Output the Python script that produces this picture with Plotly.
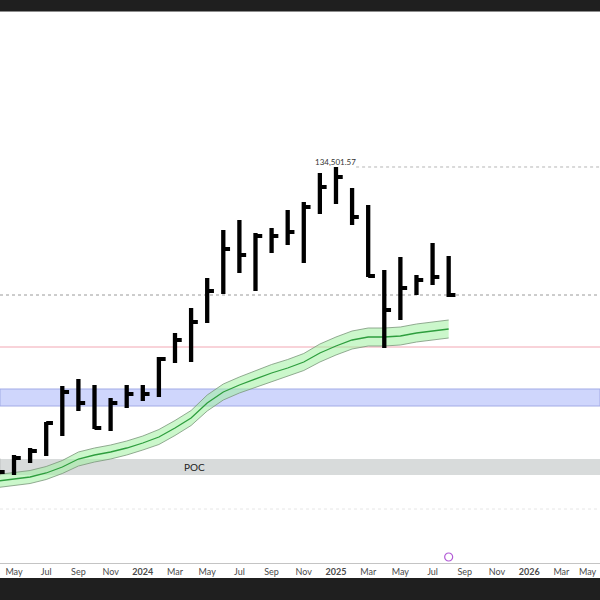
import plotly.graph_objects as go

# ---------------- data ----------------
months = ["2023-04", "2023-05", "2023-06", "2023-07", "2023-08", "2023-09", "2023-10",
          "2023-11", "2023-12", "2024-01", "2024-02", "2024-03", "2024-04", "2024-05",
          "2024-06", "2024-07", "2024-08", "2024-09", "2024-10", "2024-11", "2024-12",
          "2025-01", "2025-02", "2025-03", "2025-04", "2025-05", "2025-06", "2025-07",
          "2025-08"]

highs = [76300, 76900, 78300, 83500, 90700, 92100, 90900, 88300, 90900, 90900, 96500,
         101300, 106300, 112300, 121900, 123900, 121300, 122300, 125900, 127500, 133300,
         134501.57, 130300, 126900, 113900, 116500, 112900, 119300, 116700]
lows = [72700, 72900, 75300, 76700, 80700, 85700, 82100, 81700, 86300, 87700, 88500,
        95300, 95500, 103300, 109100, 113300, 109700, 117300, 118900, 115300, 125100,
        127100, 122900, 112500, 98300, 103900, 108900, 110900, 108500]
closes = [73500, 76300, 77700, 83300, 89500, 87300, 82300, 87300, 89100, 89100, 96100,
          99900, 103500, 109700, 118100, 116900, 120700, 120700, 121500, 126500, 130500,
          132500, 124500, 112700, 105900, 110300, 111900, 112500, 108900]

ma_mid = [71700, 72100, 72500, 73300, 74500, 76100, 76900, 77500, 78300, 79300, 80500,
          82300, 84300, 87300, 89500, 90900, 92100, 93300, 94300, 95500, 97300,
          98700, 99900, 100500, 100500, 100700, 101300, 101700, 102100]
ma_upper = [73000, 73400, 73800, 74600, 75800, 77500, 78300, 78900, 79700, 80700, 82000,
            83800, 85800, 88900, 91100, 92500, 93800, 95000, 96000, 97200, 99100,
            100500, 101700, 102300, 102300, 102500, 103100, 103500, 103900]
ma_lower = [70400, 70800, 71200, 72000, 73200, 74700, 75500, 76100, 76900, 77900, 79000,
            80800, 82800, 85700, 87900, 89300, 90400, 91600, 92600, 93800, 95500,
            96900, 98100, 98700, 98700, 98900, 99500, 99900, 100300]

tick_labels = ["May", "Jul", "Sep", "Nov", "<b>2024</b>", "Mar", "May", "Jul", "Sep", "Nov",
               "<b>2025</b>", "Mar", "May", "Jul", "Sep", "Nov", "<b>2026</b>", "Mar", "May"]

peak_label = "134,501.57"
peak_price = 134501.57
support_level = 98500
value_zone = [86700, 90100]
poc_zone = [72900, 76100]
last_close_level = 108900
lower_dotted_level = 66100

# ---------------- geometry ----------------
x = list(range(len(months)))
tick_pos = [1 + 2 * k for k in range(len(tick_labels))]
x_range = [0.13, 37.4]
y_range = [55300, 165500]
tick_font = dict(size=9, color="#4a4a4a", family="Lato")

fig = go.Figure()

# green moving-average band
fig.add_trace(go.Scatter(x=x, y=ma_lower, mode="lines",
                         line=dict(color="#7a957a", width=0.8), hoverinfo="skip", showlegend=False))
fig.add_trace(go.Scatter(x=x, y=ma_upper, mode="lines", fill="tonexty",
                         fillcolor="rgba(160,240,160,0.55)",
                         line=dict(color="#7a957a", width=0.8), hoverinfo="skip", showlegend=False))
fig.add_trace(go.Scatter(x=x, y=ma_mid, mode="lines",
                         line=dict(color="#2e9e3e", width=1.3), hoverinfo="skip", showlegend=False))

# HLC bars
vx, vy, tx, ty = [], [], [], []
for i, (h, l, c) in enumerate(zip(highs, lows, closes)):
    vx += [i, i, None]
    vy += [l, h, None]
    tx += [i, i + 0.42, None]
    ty += [c, c, None]
fig.add_trace(go.Scatter(x=vx, y=vy, mode="lines", line=dict(color="#000000", width=4.3),
                         hoverinfo="skip", showlegend=False))
fig.add_trace(go.Scatter(x=tx, y=ty, mode="lines", line=dict(color="#000000", width=4),
                         hoverinfo="skip", showlegend=False))

# event marker
fig.add_trace(go.Scatter(x=[x[-1]], y=[56500], mode="markers", cliponaxis=False,
                         marker=dict(symbol="circle-open", size=8, color="#b25bd6",
                                     line=dict(width=1.2, color="#b25bd6")),
                         hoverinfo="skip", showlegend=False))

shapes = []
# zones
shapes.append(dict(type="rect", xref="paper", yref="y", x0=0, x1=1,
                   y0=value_zone[0], y1=value_zone[1], fillcolor="#cfd6fc",
                   line=dict(color="#a2abe6", width=1), layer="below"))
shapes.append(dict(type="rect", xref="paper", yref="y", x0=0, x1=1,
                   y0=poc_zone[0], y1=poc_zone[1], fillcolor="#d8dbdb",
                   line=dict(width=0), layer="below"))
shapes.append(dict(type="line", xref="paper", yref="y", x0=0, x1=1,
                   y0=support_level, y1=support_level,
                   line=dict(color="#f2a7b3", width=1), layer="below"))
shapes.append(dict(type="line", xref="paper", yref="y", x0=0, x1=1,
                   y0=last_close_level, y1=last_close_level,
                   line=dict(color="#9a9a9a", width=1, dash="dot"), layer="below"))
shapes.append(dict(type="line", xref="paper", yref="y", x0=0, x1=1,
                   y0=lower_dotted_level, y1=lower_dotted_level,
                   line=dict(color="#e6e6e6", width=1, dash="dot"), layer="below"))
shapes.append(dict(type="line", xref="x", yref="y", x0=22.25, x1=x_range[1],
                   y0=peak_price, y1=peak_price,
                   line=dict(color="#b5b5b5", width=1, dash="dot"), layer="below"))
# frame: top and bottom dark bars
ph = 551.0
shapes.append(dict(type="rect", xref="paper", yref="paper", x0=0, x1=1,
                   y0=1 + 1 / ph, y1=1 + 13 / ph, fillcolor="#1f1f1f", line=dict(width=0)))
shapes.append(dict(type="rect", xref="paper", yref="paper", x0=0, x1=1,
                   y0=1, y1=1 + 1 / ph, fillcolor="#8c8c8c", line=dict(width=0)))
shapes.append(dict(type="rect", xref="paper", yref="paper", x0=0, x1=1,
                   y0=-15 / ph, y1=-40 / ph, fillcolor="#1f1f1f", line=dict(width=0)))

annotations = [
    dict(x=21, y=peak_price, xref="x", yref="y", text=peak_label, showarrow=False,
         yanchor="bottom", xanchor="center", yshift=-2,
         font=dict(size=8, color="#333333", family="Lato")),
    dict(x=11.43, y=sum(poc_zone) / 2, xref="x", yref="y", text="POC", showarrow=False,
         xanchor="left", yanchor="middle",
         font=dict(size=10, color="#222222", family="Lato")),
    # last tick label sits at the very edge of the chart
    dict(x=1, y=-8 / ph, xref="paper", yref="paper", text=tick_labels[-1], showarrow=False,
         xanchor="right", yanchor="middle", xshift=-1, font=tick_font),
]

fig.update_layout(
    width=600, height=600,
    margin=dict(l=0, r=0, t=12, b=37),
    paper_bgcolor="#ffffff", plot_bgcolor="#ffffff",
    shapes=shapes, annotations=annotations,
    showlegend=False,
    xaxis=dict(range=x_range, tickmode="array", tickvals=tick_pos[:-1], ticktext=tick_labels[:-1],
               showgrid=False, zeroline=False, showline=True, linecolor="#c4c4c4",
               linewidth=1, ticks="", tickfont=tick_font, fixedrange=True),
    yaxis=dict(range=y_range, visible=False, showgrid=False, zeroline=False, fixedrange=True),
)

post = "document.body.style.margin='0';document.body.style.overflow='hidden';"
fig.write_html("out.html", config={"displayModeBar": False}, post_script=post)
